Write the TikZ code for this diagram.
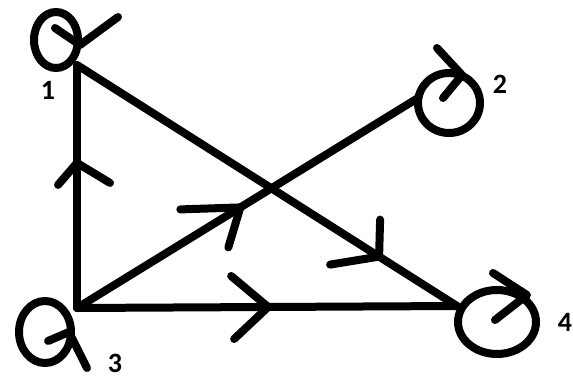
\documentclass[tikz,border=0pt]{standalone}
\usepackage{fontspec}
\setmainfont{Carlito}
\usepackage{tikz}
\usetikzlibrary{shapes.geometric, calc}

\begin{document}
\begin{tikzpicture}[
        x=1pt, y=-1pt,
        loopring/.style={ellipse, draw, line width=8pt, inner sep=0pt},
        edge/.style={line width=8pt, line cap=round},
        chev/.style={line width=8pt, line cap=round, line join=round},
        lbl/.style={font=\bfseries\fontsize{28}{28}\selectfont, inner sep=0pt}
      ]
      \useasboundingbox (0,0) rectangle (573,378);
      % vertices
      \coordinate (v1) at (77,65);
      \coordinate (v2) at (418,98);
      \coordinate (v3) at (77,308);
      \coordinate (v4) at (457,306);
      % self loops
      \node[loopring, minimum width=44pt, minimum height=56pt] (L1) at (56,40) {};
      \node[loopring, minimum width=62pt, minimum height=60pt] (L2) at (449,103) {};
      \node[loopring, minimum width=52pt, minimum height=62pt] (L3) at (45,332) {};
      \node[loopring, minimum width=78pt, minimum height=64pt] (L4) at (497,322) {};
      \draw[chev] ([shift={(-1,-12)}]L1.center) -- ([shift={(24,5)}]L1.center)
        -- ([shift={(62,-23)}]L1.center);
      \draw[chev] ([shift={(-12,-55)}]L2.center) -- ([shift={(13,-28)}]L2.center)
        -- ([shift={(-6,-5)}]L2.center);
      \draw[chev] ([shift={(3,9)}]L3.center) -- ([shift={(24,0)}]L3.center)
        -- ([shift={(42,36)}]L3.center);
      \draw[chev] ([shift={(-4,-49)}]L4.center) -- ([shift={(30,-27)}]L4.center)
        -- ([shift={(-2,-2)}]L4.center);
      % edges
      \draw[edge] (v3) -- (v1);
      \draw[edge] (v3) -- (v2);
      \draw[edge] (v1) -- (v4);
      \draw[edge] (v3) -- (v4);
      % arrow marks on the edges
      \coordinate (a31) at ($(v3)!0.597!(v1)$);
      \coordinate (a32) at ($(v3)!0.479!(v2)$);
      \coordinate (a14) at ($(v1)!0.795!(v4)$);
      \coordinate (a34) at ($(v3)!0.503!(v4)$);
      \draw[chev] ($(a31)+(-19,22)$) -- (a31) -- ($(a31)+(33,20)$);
      \draw[chev] ($(a32)+(-60,2)$) -- (a32) -- ($(a32)+(-12,40)$);
      \draw[chev] ($(a14)+(1,-37)$) -- (a14) -- ($(a14)+(-49,8)$);
      \draw[chev] ($(a34)+(-37,-31)$) -- (a34) -- ($(a34)+(-34,32)$);
      % labels
      \node[lbl] (n1) at (48,90) {1};
      \node[lbl] (n2) at (500,84) {2};
      \node[lbl] (n3) at (115,363) {3};
      \node[lbl] (n4) at (565,322) {4};
    \end{tikzpicture}
\end{document}
